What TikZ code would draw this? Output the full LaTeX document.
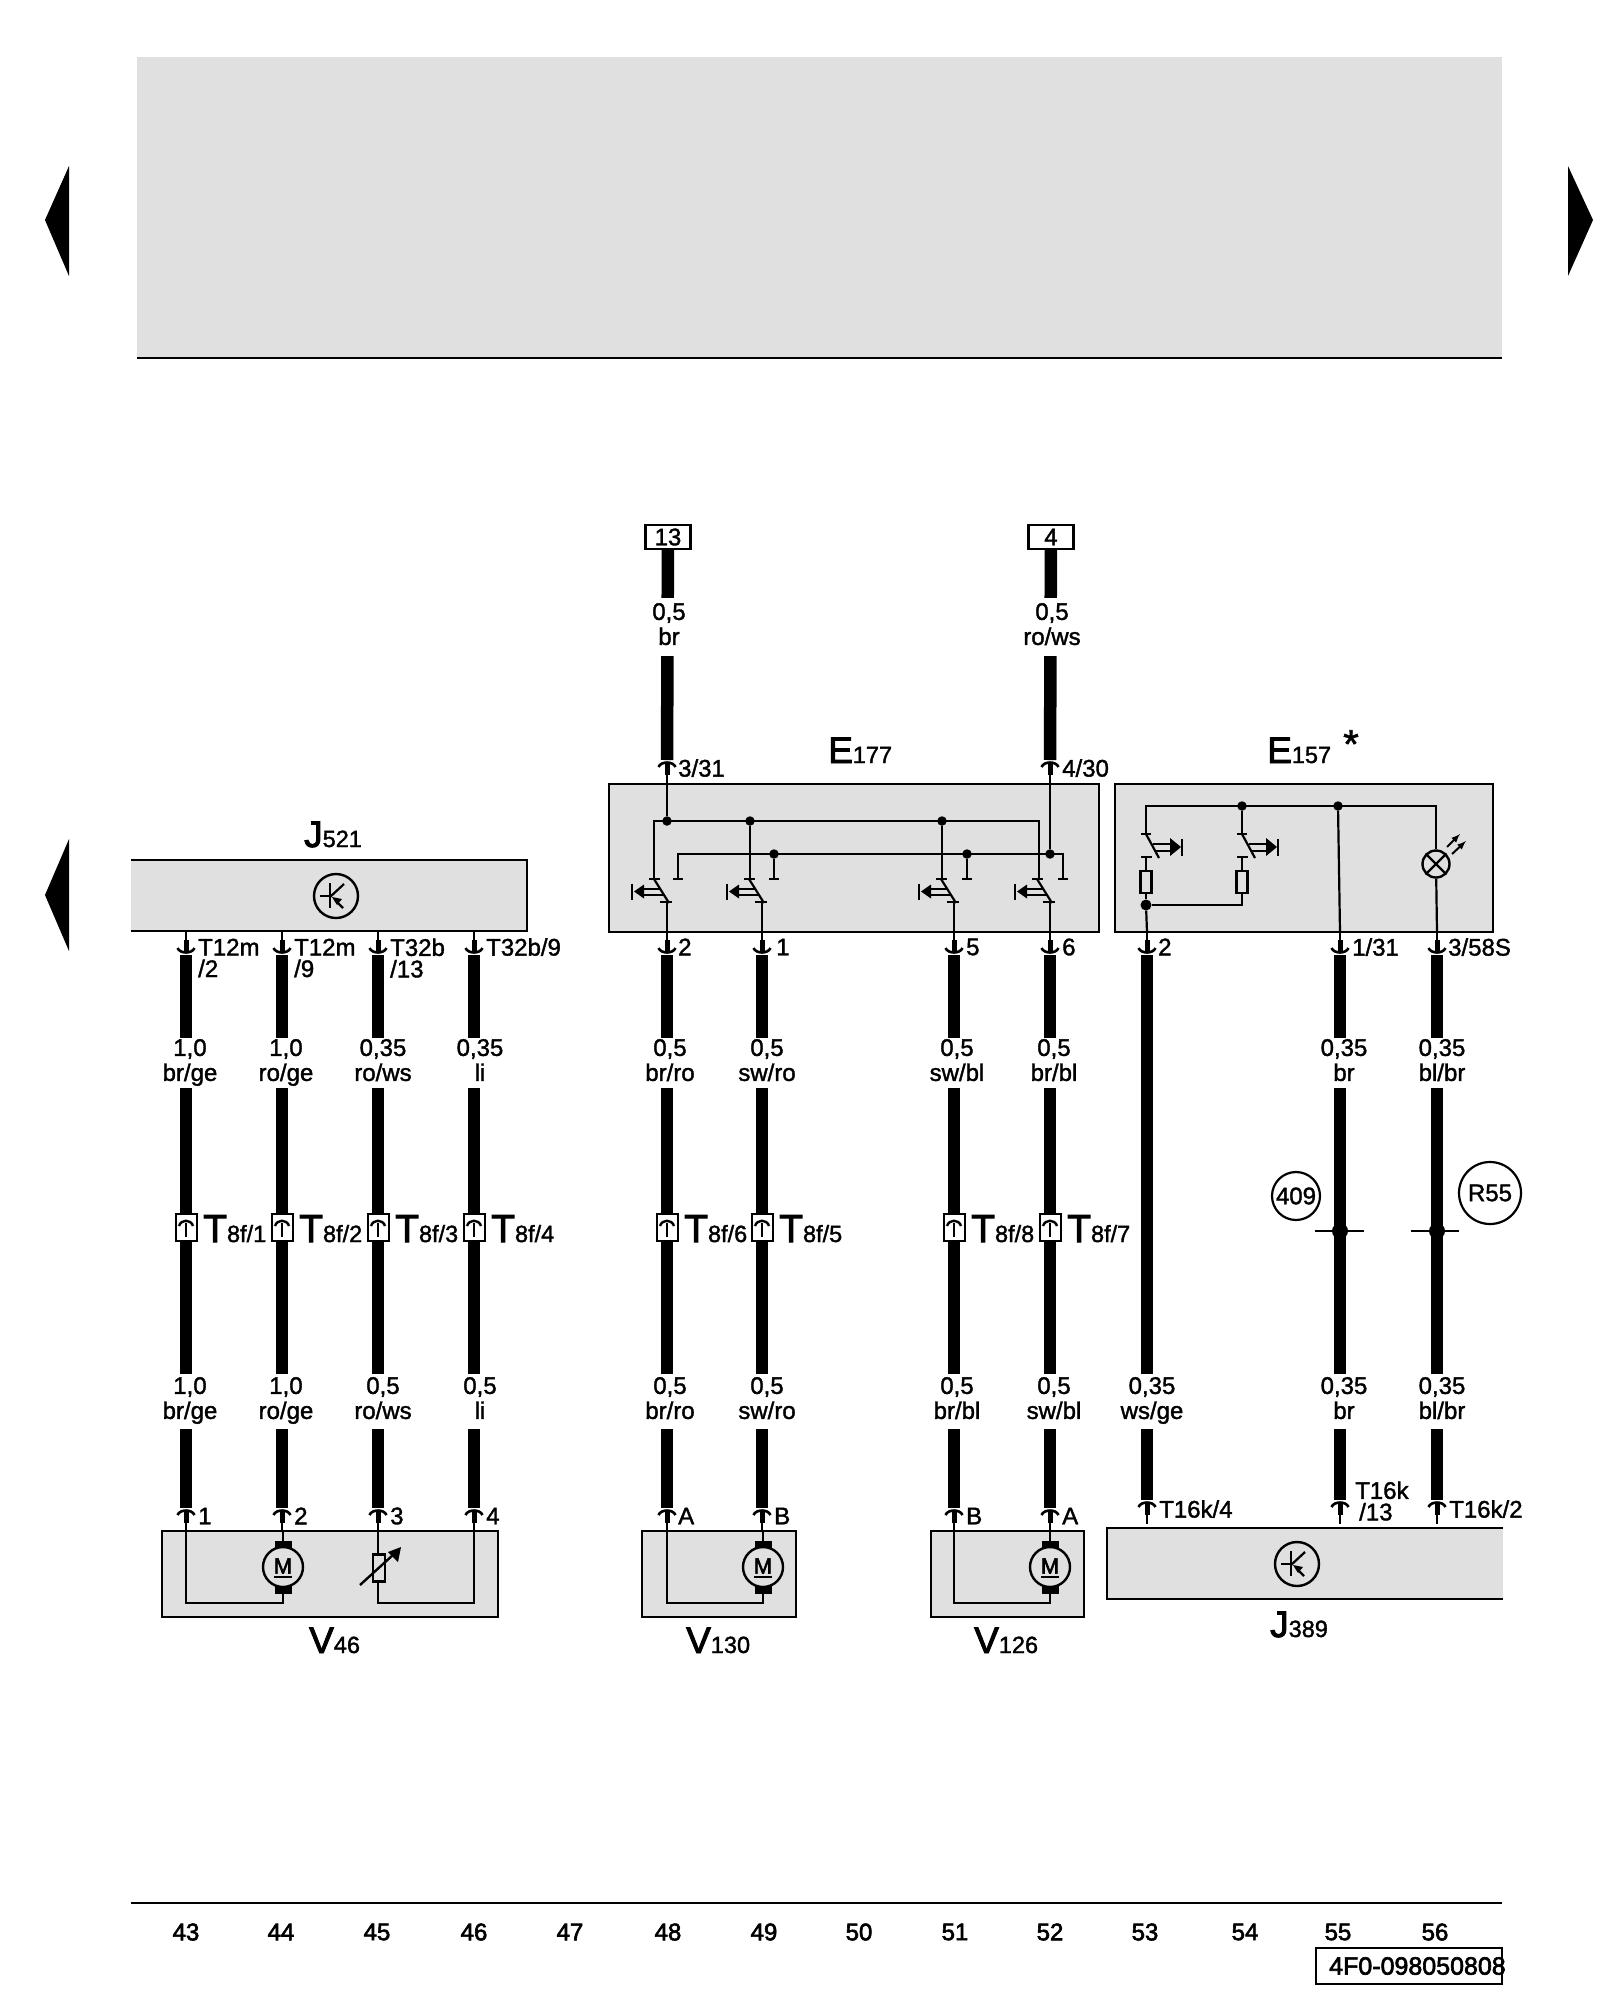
\documentclass[tikz,border=0pt]{standalone}
\usepackage{fontspec}
\setmainfont{Liberation Sans}[RawFeature={embolden=1.5}]
\newfontfamily\heavyfont{Liberation Sans}[RawFeature={embolden=2.5}]
\newcommand{\bigsub}[3]{{\heavyfont\fontsize{#1}{#1}\selectfont #2}{\fontsize{23.5}{24}\selectfont #3}}
\definecolor{panelgray}{HTML}{E0E0E0}
\tikzset{
  x=1pt,y=-1pt,
  panel/.style={fill=panelgray,draw=black,line width=2.4pt},
  panelfill/.style={fill=panelgray},
  edge/.style={line width=2.4pt},
  wire/.style={line width=12.5pt},
  thinw/.style={line width=2.2pt},
  lbl/.style={fill=white,inner sep=0pt,align=center,minimum width=30pt,minimum height=52pt,
    font=\fontsize{24}{25}\selectfont,
    execute at begin node={\rule{0pt}{20pt}\hspace*{4pt}},
    execute at end node={\rule[-6pt]{0pt}{6pt}}},
  pinlbl/.style={anchor=west,inner sep=0pt,align=left,font=\fontsize{24}{21.5}\selectfont},
  bigname/.style={anchor=base west,inner sep=0pt},
  tbox/.style={draw,fill=white,line width=2pt,inner sep=0pt,minimum width=21pt,minimum height=27pt},
  fusebox/.style={draw,fill=white,line width=2.4pt,inner sep=0pt,minimum width=45pt,minimum height=24pt,
    font=\fontsize{24}{24}\selectfont},
  jdot/.style={circle,fill=black,inner sep=0pt,minimum size=9.5pt},
  ring/.style={circle,draw,line width=2.2pt,inner sep=0pt,font=\fontsize{24}{24}\selectfont},
  colnum/.style={inner sep=0pt,font=\heavyfont\fontsize{24}{24}\selectfont},
  pics/plug/.style={code={
    \draw[thinw] (0,-24) -- (0,-13);
    \draw[line width=5pt] (0,-15) -- (0,-4);
    \draw[line width=2.6pt] (-8.5,-7) .. controls (-6,-1) and (6,-1) .. (8.5,-7);
  }},
  pics/tmark/.style={code={
    \draw[line width=2.4pt] (-7,-1) .. controls (-5,-8) and (5,-8) .. (7,-1);
    \draw[line width=2.6pt] (0,-4) -- (0,10);
  }},
  pics/switchl/.style={code={
    \draw[thinw] (-18,0) -- (-7,0);
    \draw[thinw] (-13,0) -- (2,24);
    \draw[thinw] (-7,23) -- (5,23);
    \draw[thinw] (0,23) -- (0,53);
    \draw[line width=2pt] (-25,9.5) -- (-7,9.5);
    \draw[line width=2pt] (-25,16) -- (-3,16);
    \fill (-23,5.5) -- (-23,19.5) -- (-33,12.5) -- cycle;
    \draw[line width=2.6pt] (-35,4.5) -- (-35,21);
  }},
  pics/switchr/.style={code={
    \draw[thinw] (-5,0) -- (5,0);
    \draw[thinw] (0,0) -- (13,24);
    \draw[thinw] (-5,23) -- (6,23);
    \draw[line width=2pt] (7,10) -- (25,10);
    \draw[line width=2pt] (10,17) -- (25,17);
    \fill (24,4) -- (24,22) -- (35,13) -- cycle;
    \draw[line width=2.6pt] (36,5) -- (36,22);
    \draw[thinw] (0,23) -- (0,37);
  }},
  pics/motorsym/.style={code={
    \fill (-8.5,-26) rectangle (8.5,-17);
    \fill (-8.5,18) rectangle (8.5,27);
    \draw[line width=2.4pt,fill=panelgray] (0,0) circle (20);
    \node[inner sep=0pt,font=\heavyfont\fontsize{22}{22}\selectfont] (m) at (0,-1) {M};
    \draw[line width=1.8pt] (-9,10) -- (9,10);
  }},
  pics/transsym/.style={code={
    \draw[line width=2.4pt] (0,0) circle (22);
    \draw[thinw] (-6,-13) -- (-6,12);
    \draw[thinw] (-16,0) -- (-6,0);
    \draw[thinw] (-6,1) -- (8,-12);
    \draw[thinw] (2,7) -- (7,12);
    \fill (-4,1) -- (6,3) -- (1,9) -- cycle;
  }},
}
\begin{document}
\begin{tikzpicture}
\useasboundingbox (0,0) rectangle (1600,2000);

% top panel and page marks
\fill[panelfill] (137,57) rectangle (1502,358);
\draw[edge] (137,358) -- (1502,358);
\fill (45,220) -- (69,166) -- (69,276) -- cycle;
\fill (45,895) -- (69,839) -- (69,951) -- cycle;
\fill (1593,220) -- (1568,166) -- (1568,276) -- cycle;

% control units
\fill[panelfill] (131,860) rectangle (527,931);
\draw[edge] (131,860) -- (527,860) -- (527,931) -- (131,931);
\draw[panel] (609,784) rectangle (1099,932);
\draw[panel] (1115,784) rectangle (1493,932);
\draw[panel] (162,1531) rectangle (498,1617);
\draw[panel] (642,1531) rectangle (796,1617);
\draw[panel] (931,1531) rectangle (1084,1617);
\fill[panelfill] (1107,1528) rectangle (1503,1599);
\draw[edge] (1503,1528) -- (1107,1528) -- (1107,1599) -- (1503,1599);

\node[bigname] (j521) at (304,847) {\bigsub{37}{J}{521}};
\node[bigname] (e177) at (828,763) {\bigsub{37}{E}{177}};
\node[bigname] (e157) at (1267,763) {\bigsub{37}{E}{157}};
\node[inner sep=0pt,font=\fontsize{40}{40}\selectfont] (star) at (1351,744) {*};
\node[bigname] (v46) at (309,1653) {\bigsub{37}{V}{46}};
\node[bigname] (v130) at (686,1653) {\bigsub{37}{V}{130}};
\node[bigname] (v126) at (974,1653) {\bigsub{37}{V}{126}};
\node[bigname] (j389) at (1270,1637) {\bigsub{37}{J}{389}};

% wires
\node[fusebox] (f13) at (668,537) {13};
\node[fusebox] (f4) at (1051,537) {4};
\coordinate (a7) at (667,760);
\coordinate (a10) at (1050,760);
\draw[wire] (f13) -- (a7);
\draw[wire] (f4) -- (a10);

\coordinate (b1) at (186,955);
\coordinate (b2) at (282,955);
\coordinate (b3) at (378,955);
\coordinate (b4) at (474,955);
\coordinate (b5) at (667,955);
\coordinate (b6) at (762,955);
\coordinate (b7) at (954,955);
\coordinate (b8) at (1050,955);
\coordinate (b9) at (1147,955);
\coordinate (b10) at (1340,955);
\coordinate (b11) at (1437,955);
\coordinate (c1) at (186,1508);
\coordinate (c2) at (282,1508);
\coordinate (c3) at (378,1508);
\coordinate (c4) at (474,1508);
\coordinate (c5) at (667,1508);
\coordinate (c6) at (762,1508);
\coordinate (c7) at (954,1508);
\coordinate (c8) at (1050,1508);
\coordinate (c9) at (1147,1500);
\coordinate (c10) at (1340,1500);
\coordinate (c11) at (1437,1500);
\draw[wire] (b1) -- (c1);
\draw[wire] (b2) -- (c2);
\draw[wire] (b3) -- (c3);
\draw[wire] (b4) -- (c4);
\draw[wire] (b5) -- (c5);
\draw[wire] (b6) -- (c6);
\draw[wire] (b7) -- (c7);
\draw[wire] (b8) -- (c8);
\draw[wire] (b9) -- (c9);
\draw[wire] (b10) -- (c10);
\draw[wire] (b11) -- (c11);

% plugs
\pic[yscale=-1] at (a7) {plug};
\pic[yscale=-1] at (a10) {plug};
\pic at (b1) {plug};
\pic at (b2) {plug};
\pic at (b3) {plug};
\pic at (b4) {plug};
\pic at (b5) {plug};
\pic at (b6) {plug};
\pic at (b7) {plug};
\pic at (b8) {plug};
\pic at (b9) {plug};
\pic at (b10) {plug};
\pic at (b11) {plug};
\pic[yscale=-1] at (c1) {plug};
\pic[yscale=-1] at (c2) {plug};
\pic[yscale=-1] at (c3) {plug};
\pic[yscale=-1] at (c4) {plug};
\pic[yscale=-1] at (c5) {plug};
\pic[yscale=-1] at (c6) {plug};
\pic[yscale=-1] at (c7) {plug};
\pic[yscale=-1] at (c8) {plug};
\pic[yscale=-1] at (c9) {plug};
\pic[yscale=-1] at (c10) {plug};
\pic[yscale=-1] at (c11) {plug};

% wire labels
\node[lbl,minimum height=58pt] (l13) at (667,627) {0,5\\br};
\node[lbl,minimum height=58pt] (l4) at (1050,627) {0,5\\ro/ws};
\node[lbl,minimum height=50pt] (u1) at (188,1063) {1,0\\br/ge};
\node[lbl,minimum height=50pt] (u2) at (284,1063) {1,0\\ro/ge};
\node[lbl,minimum height=50pt] (u3) at (381,1063) {0,35\\ro/ws};
\node[lbl,minimum height=50pt] (u4) at (478,1063) {0,35\\li};
\node[lbl,minimum height=50pt] (u5) at (668,1063) {0,5\\br/ro};
\node[lbl,minimum height=50pt] (u6) at (765,1063) {0,5\\sw/ro};
\node[lbl,minimum height=50pt] (u7) at (955,1063) {0,5\\sw/bl};
\node[lbl,minimum height=50pt] (u8) at (1052,1063) {0,5\\br/bl};
\node[lbl,minimum height=50pt] (u10) at (1342,1063) {0,35\\br};
\node[lbl,minimum height=50pt] (u11) at (1440,1063) {0,35\\bl/br};
\node[lbl,minimum height=55pt] (d1) at (188,1401) {1,0\\br/ge};
\node[lbl,minimum height=55pt] (d2) at (284,1401) {1,0\\ro/ge};
\node[lbl,minimum height=55pt] (d3) at (381,1401) {0,5\\ro/ws};
\node[lbl,minimum height=55pt] (d4) at (478,1401) {0,5\\li};
\node[lbl,minimum height=55pt] (d5) at (668,1401) {0,5\\br/ro};
\node[lbl,minimum height=55pt] (d6) at (765,1401) {0,5\\sw/ro};
\node[lbl,minimum height=55pt] (d7) at (955,1401) {0,5\\br/bl};
\node[lbl,minimum height=55pt] (d8) at (1052,1401) {0,5\\sw/bl};
\node[lbl,minimum height=55pt] (d9) at (1150,1401) {0,35\\ws/ge};
\node[lbl,minimum height=55pt] (d10) at (1342,1401) {0,35\\br};
\node[lbl,minimum height=55pt] (d11) at (1440,1401) {0,35\\bl/br};

% pin labels
\node[pinlbl] (p1) at (198,958) {T12m\\/2};
\node[pinlbl] (p2) at (294,958) {T12m\\/9};
\node[pinlbl] (p3) at (390,958) {T32b\\/13};
\node[pinlbl] (p4) at (486,947) {T32b/9};
\node[pinlbl] (p5) at (678,947) {2};
\node[pinlbl] (p6) at (776,947) {1};
\node[pinlbl] (p7) at (966,947) {5};
\node[pinlbl] (p8) at (1062,947) {6};
\node[pinlbl] (p9) at (1158,947) {2};
\node[pinlbl] (p10) at (1352,947) {1/31};
\node[pinlbl] (p11) at (1448,947) {3/58S};
\node[pinlbl] (p12) at (678,768) {3/31};
\node[pinlbl] (p13) at (1062,768) {4/30};
\node[pinlbl] (q1) at (198,1516) {1};
\node[pinlbl] (q2) at (294,1516) {2};
\node[pinlbl] (q3) at (390,1516) {3};
\node[pinlbl] (q4) at (486,1516) {4};
\node[pinlbl] (q5) at (678,1516) {A};
\node[pinlbl] (q6) at (774,1516) {B};
\node[pinlbl] (q7) at (966,1516) {B};
\node[pinlbl] (q8) at (1062,1516) {A};
\node[pinlbl] (q9) at (1159,1509) {T16k/4};
\node[pinlbl] (q10) at (1355,1501) {T16k\\\hspace*{4pt}/13};
\node[pinlbl] (q11) at (1449,1509) {T16k/2};

% T8f connectors
\node[tbox] (t1) at (186,1227) {};
\node[tbox] (t2) at (282,1227) {};
\node[tbox] (t3) at (378,1227) {};
\node[tbox] (t4) at (474,1227) {};
\node[tbox] (t5) at (667,1227) {};
\node[tbox] (t6) at (762,1227) {};
\node[tbox] (t7) at (954,1227) {};
\node[tbox] (t8) at (1050,1227) {};
\pic at (t1) {tmark};
\pic at (t2) {tmark};
\pic at (t3) {tmark};
\pic at (t4) {tmark};
\pic at (t5) {tmark};
\pic at (t6) {tmark};
\pic at (t7) {tmark};
\pic at (t8) {tmark};
\node[bigname] (tl1) at (203,1242) {\bigsub{39}{T}{8f/1}};
\node[bigname] (tl2) at (299,1242) {\bigsub{39}{T}{8f/2}};
\node[bigname] (tl3) at (395,1242) {\bigsub{39}{T}{8f/3}};
\node[bigname] (tl4) at (491,1242) {\bigsub{39}{T}{8f/4}};
\node[bigname] (tl5) at (684,1242) {\bigsub{39}{T}{8f/6}};
\node[bigname] (tl6) at (779,1242) {\bigsub{39}{T}{8f/5}};
\node[bigname] (tl7) at (971,1242) {\bigsub{39}{T}{8f/8}};
\node[bigname] (tl8) at (1067,1242) {\bigsub{39}{T}{8f/7}};

% splices
\node[jdot,minimum size=16pt] (s409) at (1340,1231) {};
\node[jdot,minimum size=16pt] (s55) at (1437,1231) {};
\coordinate (s409a) at (1315,1231);
\coordinate (s409b) at (1364,1231);
\coordinate (s55a) at (1411,1231);
\coordinate (s55b) at (1459,1231);
\draw[thinw] (s409a) -- (s409b);
\draw[thinw] (s55a) -- (s55b);
\node[ring,minimum size=48pt] (r409) at (1296,1196) {409};
\node[ring,minimum size=62pt] (r55) at (1490,1193) {R55};

% E177 inside
\node[jdot] (e1) at (667,821) {};
\node[jdot] (e2) at (750,821) {};
\node[jdot] (e3) at (942,821) {};
\node[jdot] (e4) at (774,854) {};
\node[jdot] (e5) at (967,854) {};
\node[jdot] (e6) at (1050,854) {};
\draw[thinw] (654,879) -- (654,821) -- (1039,821) -- (1039,879);
\draw[thinw] (678,879) -- (678,854) -- (1063,854) -- (1063,879);
\draw[thinw] (667,775) -- (e1);
\draw[thinw] (1050,775) -- (e6);
\draw[thinw] (e2) -- (750,879);
\draw[thinw] (e3) -- (942,879);
\draw[thinw] (e4) -- (774,879);
\draw[thinw] (e5) -- (967,879);
\draw[thinw] (673,879) -- (683,879);
\draw[thinw] (769,879) -- (779,879);
\draw[thinw] (962,879) -- (972,879);
\draw[thinw] (1058,879) -- (1068,879);
\pic at (667,879) {switchl};
\pic at (762,879) {switchl};
\pic at (954,879) {switchl};
\pic at (1050,879) {switchl};

% E157 inside
\node[jdot] (g1) at (1242,806) {};
\node[jdot] (g2) at (1338,806) {};
\node[jdot,minimum size=11pt] (g3) at (1146,905) {};
\node[circle,draw,line width=2.4pt,inner sep=0pt,minimum size=27pt] (lamp) at (1436,864) {};
\draw[thinw] (1146,834) -- (1146,806) -- (1436,806) -- (lamp);
\draw[thinw] (g1) -- (1242,834);
\draw[thinw] (g2) -- (1340,932);
\draw[thinw] (lamp) -- (1437,932);
\draw[thinw] (lamp.north west) -- (lamp.south east);
\draw[thinw] (lamp.north east) -- (lamp.south west);
\draw[line width=2pt,-latex] (1447,847) -- (1460,834);
\draw[line width=2pt,-latex] (1452,854) -- (1466,841);
\pic at (1146,834) {switchr};
\pic at (1242,834) {switchr};
\node[draw,fill=panelgray,line width=2.2pt,inner sep=0pt,minimum width=11pt,minimum height=22pt] (w1) at (1146,882) {};
\node[draw,fill=panelgray,line width=2.2pt,inner sep=0pt,minimum width=11pt,minimum height=22pt] (w2) at (1242,882) {};
\draw[thinw] (w1) -- (g3);
\draw[thinw] (g3) -- (1147,932);
\draw[thinw] (w2) -- (1242,905) -- (g3);

% motors and the other parts
\coordinate (w46) at (186,1603);
\draw[thinw] (186,1531) -- (w46) -- (283,1603) -- (283,1531);
\pic (m46) at (283,1567) {motorsym};
\draw[thinw] (667,1531) -- (667,1603) -- (763,1603) -- (763,1531);
\pic (m130) at (763,1567) {motorsym};
\draw[thinw] (954,1531) -- (954,1603) -- (1050,1603) -- (1050,1531);
\pic (m126) at (1050,1567) {motorsym};
\draw[thinw] (378,1531) -- (378,1603) -- (474,1603) -- (474,1531);
\node[draw,fill=panelgray,line width=2.2pt,inner sep=0pt,minimum width=12pt,minimum height=27pt] (pot) at (379,1568) {};
\draw[line width=2.4pt] (360,1585) -- (394,1554);
\fill (401,1547) -- (388,1552) -- (398,1562) -- cycle;

\pic at (336,896) {transsym};
\pic at (1297,1564) {transsym};

% bottom line with column numbers
\draw[edge] (131,1903) -- (1502,1903);
\node[colnum] (n43) at (186,1932) {43};
\node[colnum] (n44) at (281,1932) {44};
\node[colnum] (n45) at (377,1932) {45};
\node[colnum] (n46) at (474,1932) {46};
\node[colnum] (n47) at (570,1932) {47};
\node[colnum] (n48) at (668,1932) {48};
\node[colnum] (n49) at (764,1932) {49};
\node[colnum] (n50) at (859,1932) {50};
\node[colnum] (n51) at (955,1932) {51};
\node[colnum] (n52) at (1050,1932) {52};
\node[colnum] (n53) at (1145,1932) {53};
\node[colnum] (n54) at (1245,1932) {54};
\node[colnum] (n55) at (1338,1932) {55};
\node[colnum] (n56) at (1435,1932) {56};
\node[draw,line width=2.4pt,inner sep=0pt,minimum width=186pt,minimum height=36pt] (refbox) at (1409,1966) {};
\node[colnum,anchor=west,font=\heavyfont\fontsize{25}{25}\selectfont] (reftxt) at (1329,1966) {4F0-098050808};
\end{tikzpicture}
\end{document}
